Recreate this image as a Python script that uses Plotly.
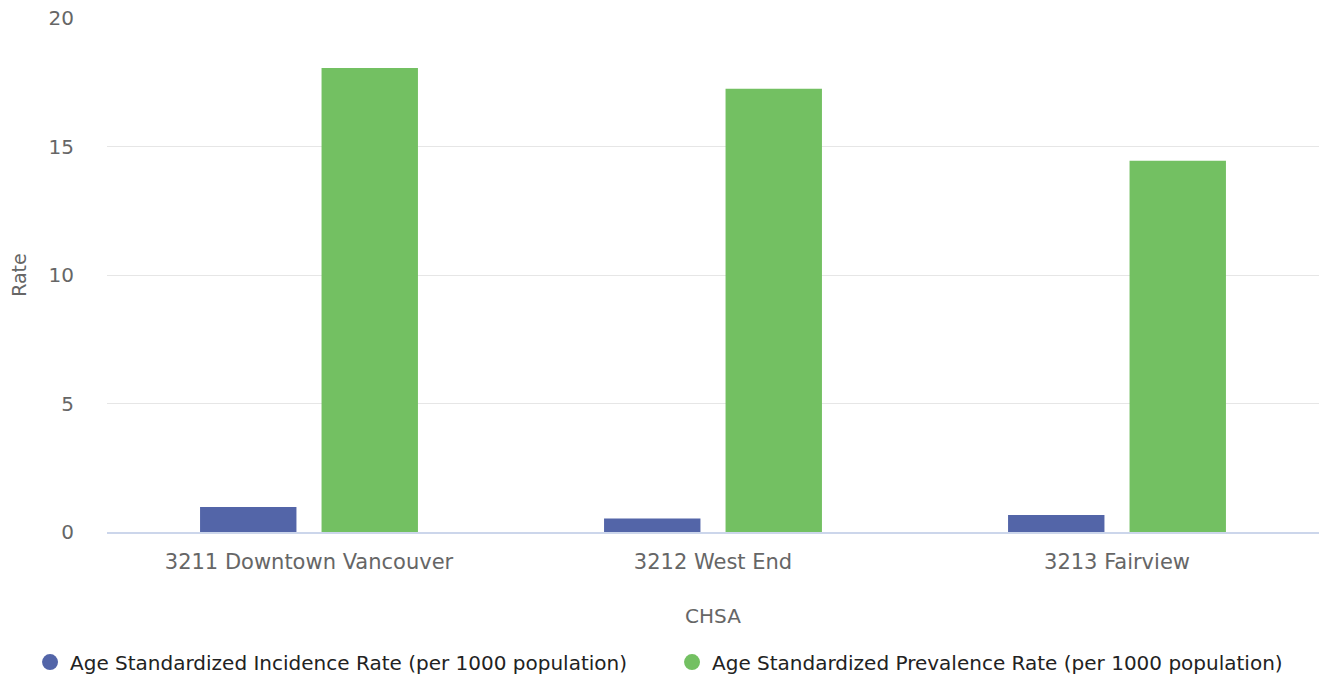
import plotly.graph_objects as go

categories = ["3211 Downtown Vancouver", "3212 West End", "3213 Fairview"]
incidence = [0.97, 0.53, 0.66]
prevalence = [18.05, 17.25, 14.45]
series_names = ["Age Standardized Incidence Rate (per 1000 population)",
                "Age Standardized Prevalence Rate (per 1000 population)"]
colors = ["#5365a8", "#73c062"]
y_ticks = [0, 5, 10, 15, 20]

FONT = "DejaVu Sans"

fig = go.Figure()
for vals, name, col in zip([incidence, prevalence], series_names, colors):
    fig.add_trace(go.Bar(x=categories, y=vals, name=name, showlegend=False,
                         marker=dict(color=col, line=dict(width=0))))
# legend entries with circle symbols
for name, col in zip(series_names, colors):
    fig.add_trace(go.Scatter(x=[None], y=[None], mode="markers", name=name,
                             marker=dict(color=col, size=18, symbol="circle")))

fig.update_layout(
    width=1319, height=677,
    margin=dict(l=107, r=0, t=18, b=145, autoexpand=False),
    paper_bgcolor="white", plot_bgcolor="white",
    barmode="group", bargap=0.3985, bargroupgap=0.2066,
    font=dict(family=FONT, color="#666666", size=18),
    showlegend=True,
    legend=dict(orientation="h", x=-0.0635, xanchor="left", y=-0.253, yanchor="middle",
                font=dict(family=FONT, size=20, color="#222222"),
                itemsizing="trace", entrywidth=597, entrywidthmode="pixels"),
    xaxis=dict(title=dict(text="CHSA", font=dict(size=20, color="#666666"), standoff=36),
               showline=True, linecolor="#ccd6eb", linewidth=2,
               ticks="outside", ticklen=10, tickcolor="rgba(0,0,0,0)",
               tickfont=dict(size=21, color="#666666"), showgrid=False),
    yaxis=dict(title=dict(text="Rate", font=dict(size=19, color="#666666"), standoff=16),
               range=[0, 20], tickvals=y_ticks, gridcolor="#e6e6e6", gridwidth=1,
               zeroline=False, ticks="outside", ticklen=28, tickcolor="rgba(0,0,0,0)",
               tickfont=dict(size=20, color="#666666")),
)

fig.write_html("out.html", config={"displayModeBar": False},
               post_script="document.body.style.margin='0';document.body.style.overflow='hidden';")
